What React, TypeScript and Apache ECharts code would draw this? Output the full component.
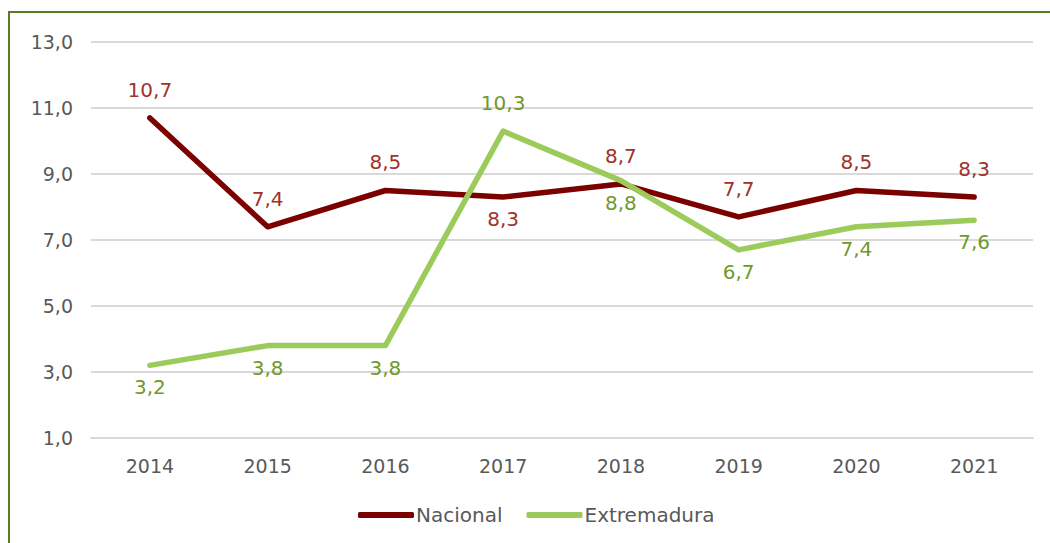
import React, { useEffect, useRef } from "react";
import * as echarts from "echarts";

const years = ["2014", "2015", "2016", "2017", "2018", "2019", "2020", "2021"];
const nacional = [10.7, 7.4, 8.5, 8.3, 8.7, 7.7, 8.5, 8.3];
const extremadura = [3.2, 3.8, 3.8, 10.3, 8.8, 6.7, 7.4, 7.6];
const nacionalLabelPos = ["top", "top", "top", "bottom", "top", "top", "top", "top"];
const extremaduraLabelPos = ["bottom", "bottom", "bottom", "top", "bottom", "bottom", "bottom", "bottom"];

const FONT = "DejaVu Sans";
const fmt = (v: number) => v.toFixed(1).replace(".", ",");

export default function App() {
  const ref = useRef<HTMLDivElement>(null);
  useEffect(() => {
    if (!ref.current) return;
    const chart = echarts.init(ref.current, null, { renderer: "svg" });
    const mk = (vals: number[], pos: string[]) =>
      vals.map((v, i) => ({
        value: v,
        label: { position: pos[i], distance: pos[i] === "top" ? 18 : 12 },
      }));
    chart.setOption({
      animation: false,
      textStyle: { fontFamily: FONT },
      graphic: [
        {
          type: "rect",
          shape: { x: 9, y: 12, width: 1060, height: 560 },
          style: { fill: "none", stroke: "#5F7A26", lineWidth: 2 },
          silent: true,
        },
      ],
      grid: { left: 91, right: 17, top: 42, bottom: 105, containLabel: false },
      legend: {
        bottom: 13,
        left: 353,
        itemWidth: 56,
        itemHeight: 6,
        itemGap: 24,
        icon: "roundRect",
        textStyle: { fontFamily: FONT, fontSize: 20, color: "#595959", padding: [0, 0, 0, -3] },
        data: ["Nacional", "Extremadura"],
      },
      xAxis: {
        type: "category",
        data: years,
        boundaryGap: true,
        axisLine: { show: true, lineStyle: { color: "#D9D9D9", width: 2 } },
        axisTick: { show: false },
        axisLabel: { fontFamily: FONT, fontSize: 19, color: "#595959", margin: 18 },
      },
      yAxis: {
        type: "value",
        min: 1,
        max: 13,
        interval: 2,
        axisLine: { show: false },
        axisTick: { show: false },
        splitLine: { lineStyle: { color: "#D9D9D9", width: 2 } },
        axisLabel: {
          fontFamily: FONT,
          fontSize: 19,
          color: "#595959",
          margin: 18,
          formatter: (v: number) => fmt(v),
        },
      },
      series: [
        {
          name: "Nacional",
          type: "line",
          data: mk(nacional, nacionalLabelPos),
          showSymbol: true,
          symbol: "circle",
          symbolSize: 0.1,
          lineStyle: { color: "#7B0000", width: 5.5, cap: "round", join: "round" },
          itemStyle: { color: "#7B0000" },
          label: {
            show: true,
            fontFamily: FONT,
            fontSize: 20,
            color: "#A0322A",
            formatter: (p: any) => fmt(p.value),
          },
          z: 3,
        },
        {
          name: "Extremadura",
          type: "line",
          data: mk(extremadura, extremaduraLabelPos),
          showSymbol: true,
          symbol: "circle",
          symbolSize: 0.1,
          lineStyle: { color: "#9BCB5A", width: 5.5, cap: "round", join: "round" },
          itemStyle: { color: "#9BCB5A" },
          label: {
            show: true,
            fontFamily: FONT,
            fontSize: 20,
            color: "#6E9A2A",
            formatter: (p: any) => fmt(p.value),
          },
          z: 4,
        },
      ],
    });
    return () => chart.dispose();
  }, []);
  return (
    <div
      ref={ref}
      style={{ position: "absolute", left: 0, top: 0, width: 1050, height: 543 }}
    />
  );
}
